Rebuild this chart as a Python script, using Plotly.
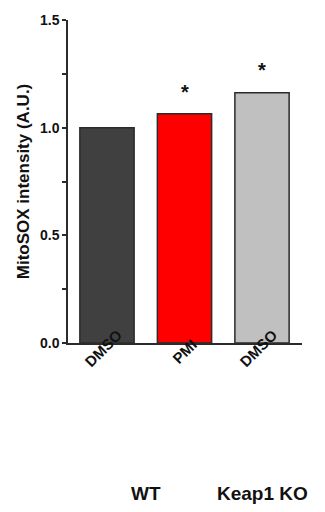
import math
import plotly.graph_objects as go

categories = ["DMSO", "PMI", "DMSO"]
values = [1.00, 1.065, 1.162]
errors = [0.033, 0.028, 0.030]
significant = [False, True, True]
bar_colors = ["#404040", "#FF0000", "#C0C0C0"]
groups = ["WT", "Keap1 KO"]
group_members = [[0, 1], [2]]
y_tickvals = [0.0, 0.25, 0.5, 0.75, 1.0, 1.25, 1.5]
y_ticktext = ["0.0", "", "0.5", "", "1.0", "", "1.5"]

pos = list(range(len(categories)))
FONT = "Liberation Sans"
INK = "#2b2b2b"
XLAB_SIZE = 15

def bold(s):
    return "<b>" + s + "</b>" if s else ""

fig = go.Figure()
fig.add_trace(go.Bar(
    x=pos, y=values, width=0.7,
    marker=dict(color=bar_colors, line=dict(color=INK, width=1.5)),
    showlegend=False,
))

annotations = []
for i, cat in enumerate(categories):
    half_diag = 0.7 * XLAB_SIZE * len(cat) / 2 * math.cos(math.pi / 4)
    annotations.append(dict(
        x=pos[i], y=0, xref="x", yref="paper", text=bold(cat), showarrow=False,
        textangle=-45, xshift=11 - half_diag, yshift=-(15.5 + half_diag),
        font=dict(family=FONT, size=XLAB_SIZE, color="#111"),
    ))
    if significant[i]:
        annotations.append(dict(
            x=pos[i], y=values[i] + errors[i], xref="x", yref="y", text=bold("*"),
            showarrow=False, yanchor="bottom", yshift=3,
            font=dict(family=FONT, size=20, color="#111"),
        ))

for g, members in zip(groups, group_members):
    x0 = pos[members[0]] - 0.32
    x1 = pos[members[-1]] + 0.32
    annotations.append(dict(
        x=(x0 + x1) / 2, y=-0.465, xref="x", yref="paper", text=bold(g), showarrow=False,
        xanchor="center", yanchor="middle",
        font=dict(family=FONT, size=19, color="#111"),
    ))

fig.update_layout(
    width=325, height=512,
    margin=dict(l=68, r=23, t=16, b=169),
    paper_bgcolor="white", plot_bgcolor="white",
    annotations=annotations,
    xaxis=dict(range=[-0.503, 2.516], showticklabels=False, ticks="",
               showgrid=False, zeroline=False, showline=True, linecolor=INK, linewidth=1.5),
    yaxis=dict(range=[0, 1.5], tickvals=y_tickvals, ticktext=[bold(t) for t in y_ticktext],
               ticks="outside", ticklen=4, tickwidth=1.5, tickcolor=INK,
               showgrid=False, zeroline=False, showline=True, linecolor=INK, linewidth=1.5,
               tickfont=dict(family=FONT, size=14, color="#111"),
               title=dict(text=bold("MitoSOX intensity (A.U.)"), standoff=6,
                          font=dict(family=FONT, size=17, color="#111"))),
)

fig.write_html("out.html")
